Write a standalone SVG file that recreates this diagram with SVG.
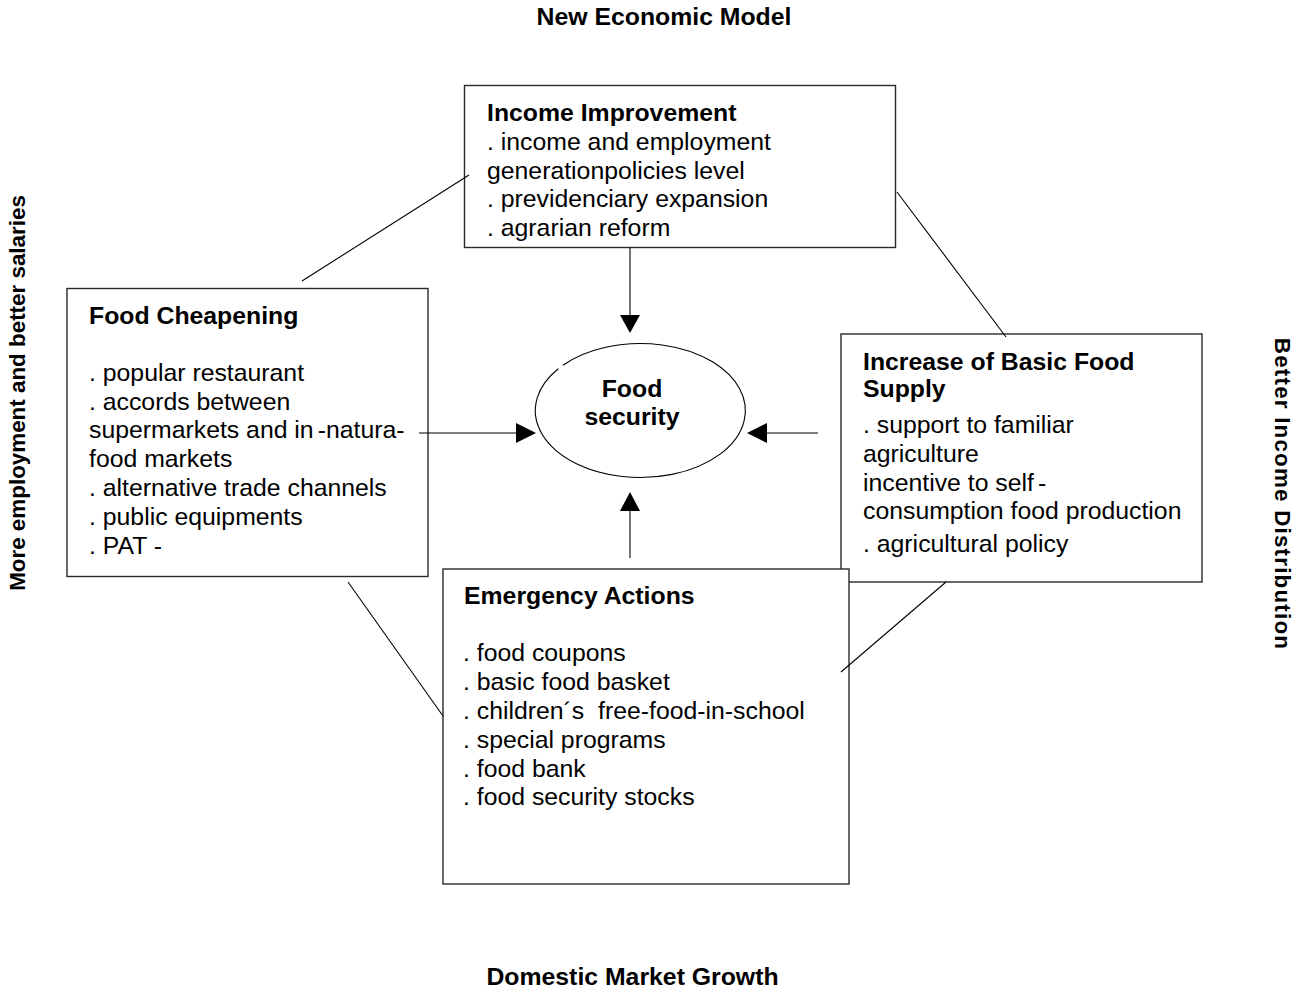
<svg xmlns="http://www.w3.org/2000/svg" width="1295" height="991" viewBox="0 0 1295 991">
<defs>
<style>
.box{fill:#fff;stroke:#2a2a2a;stroke-width:1.4}
.t{font-family:"Liberation Sans",Arial,sans-serif;font-size:24.8px;fill:#000}
.b{font-weight:bold}
.side{font-family:"Liberation Sans",Arial,sans-serif;font-size:22.4px;font-weight:bold;fill:#000}
.ln{stroke:#000;stroke-width:1.1;fill:none}
.ah{fill:#000}
</style>
</defs>
<rect width="1295" height="991" fill="#fff"/>

<text class="t b" x="664" y="25" text-anchor="middle">New Economic Model</text>
<text class="t b" x="632.5" y="985" text-anchor="middle">Domestic Market Growth</text>
<text class="side" x="25" y="393" text-anchor="middle" transform="rotate(-90 25 393)">More employment and better salaries</text>
<text class="side" x="1275" y="494" text-anchor="middle" letter-spacing="1.2" transform="rotate(90 1275 494)">Better Income Distribution</text>

<g id="income">
<rect class="box" x="464.5" y="85.5" width="431" height="162"/>
<text class="t b" x="487" y="121">Income Improvement</text>
<text class="t" x="487" y="150">. income and employment</text>
<text class="t" x="487" y="179">generationpolicies level</text>
<text class="t" x="487" y="207">. previdenciary expansion</text>
<text class="t" x="487" y="236">. agrarian reform</text>
</g>

<g id="cheapening">
<rect class="box" x="67" y="288.5" width="361" height="288"/>
<text class="t b" x="89" y="324">Food Cheapening</text>
<text class="t" x="89" y="381">. popular restaurant</text>
<text class="t" x="89" y="410">. accords between</text>
<text class="t" x="89" y="438">supermarkets and in<tspan dx="4">-natura-</tspan></text>
<text class="t" x="89" y="467">food markets</text>
<text class="t" x="89" y="496">. alternative trade channels</text>
<text class="t" x="89" y="525">. public equipments</text>
<text class="t" x="89" y="554">. PAT -</text>
</g>

<g id="supply">
<rect class="box" x="841" y="334" width="361" height="248"/>
<text class="t b" x="863" y="370">Increase of Basic Food</text>
<text class="t b" x="863" y="397">Supply</text>
<text class="t" x="863" y="433">. support to familiar</text>
<text class="t" x="863" y="462">agriculture</text>
<text class="t" x="863" y="491">incentive to self<tspan dx="4">-</tspan></text>
<text class="t" x="863" y="519">consumption food production</text>
<text class="t" x="863" y="552">. agricultural policy</text>
</g>

<g id="emergency">
<rect class="box" x="443" y="569" width="406" height="315"/>
<text class="t b" x="464" y="604">Emergency Actions</text>
<text class="t" x="463" y="661">. food coupons</text>
<text class="t" x="463" y="690">. basic food basket</text>
<text class="t" x="463" y="719" xml:space="preserve">. children´s  free-food-in-school</text>
<text class="t" x="463" y="748">. special programs</text>
<text class="t" x="463" y="777">. food bank</text>
<text class="t" x="463" y="805">. food security stocks</text>
</g>

<g id="food-security">
<path class="ln" d="M 563 365.2 A 105 67 0 1 1 558.3 368.7" stroke-width="1.2"/>
<text class="t b" x="632" y="397" text-anchor="middle">Food</text>
<text class="t b" x="632" y="425" text-anchor="middle">security</text>
</g>

<g id="connectors">
<line class="ln" x1="469" y1="175" x2="302" y2="281"/>
<line class="ln" x1="897" y1="192" x2="1006" y2="337"/>
<line class="ln" x1="348" y1="582" x2="443" y2="716"/>
<line class="ln" x1="946" y1="582" x2="841" y2="672"/>
<line class="ln" x1="630" y1="247" x2="630" y2="316"/>
<polygon class="ah" points="620,315 640,315 630,333"/>
<line class="ln" x1="630" y1="558" x2="630" y2="510"/>
<polygon class="ah" points="620,511 640,511 630,492"/>
<line class="ln" x1="419" y1="433" x2="517" y2="433"/>
<polygon class="ah" points="516,423 516,443 536,433"/>
<line class="ln" x1="818" y1="433" x2="766" y2="433"/>
<polygon class="ah" points="767,423 767,443 747,433"/>
</g>
</svg>
